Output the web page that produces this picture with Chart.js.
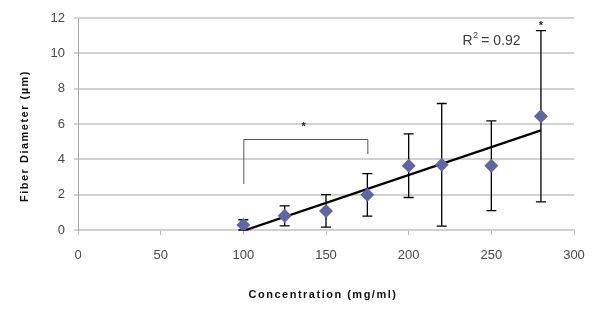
<!DOCTYPE html>
<html>
<head>
<meta charset="utf-8">
<script src="https://cdn.jsdelivr.net/npm/chart.js@4/dist/chart.umd.min.js"></script>
<style>
  html, body { margin: 0; padding: 0; background: #fff; }
  #wrap { width: 600px; height: 313px; }
</style>
</head>
<body>
<div id="wrap"><canvas id="fiberChart"></canvas></div>
<script>
// Fiber diameter vs concentration
const concentrations = [100, 125, 150, 175, 200, 220, 250, 280];
const diameters = [0.28, 0.8, 1.08, 1.99, 3.64, 3.69, 3.64, 6.44];
const errors = [0.3, 0.57, 0.92, 1.2, 1.8, 3.47, 2.54, 4.85];
const trendX = [100, 280];
const trendY = [-0.05, 5.64];
const xTicks = [0, 50, 100, 150, 200, 250, 300];
const yTicks = [0, 2, 4, 6, 8, 10, 12];

const FONT = "'Liberation Sans', Arial, sans-serif";

// error bars, drawn behind the markers
const errorBars = {
    id: 'errorBars',
    beforeDatasetsDraw(chart) {
        const { ctx, scales: { x, y } } = chart;
        ctx.save();
        ctx.strokeStyle = '#000';
        ctx.lineWidth = 1.3;
        concentrations.forEach((c, i) => {
            const px = x.getPixelForValue(c);
            const top = y.getPixelForValue(diameters[i] + errors[i]);
            const bot = y.getPixelForValue(Math.max(diameters[i] - errors[i], 0));
            ctx.beginPath();
            ctx.moveTo(px, top); ctx.lineTo(px, bot);
            ctx.moveTo(px - 5, top); ctx.lineTo(px + 5, top);
            ctx.moveTo(px - 5, bot); ctx.lineTo(px + 5, bot);
            ctx.stroke();
        });
        ctx.restore();
    }
};

// bracket, asterisks, R², axis titles
const annotations = {
    id: 'annotations',
    afterDraw(chart) {
        const { ctx, scales: { x, y } } = chart;
        ctx.save();
        // significance bracket
        ctx.strokeStyle = '#555';
        ctx.lineWidth = 1;
        ctx.beginPath();
        ctx.moveTo(x.getPixelForValue(100) + 0.5, y.getPixelForValue(2.6));
        ctx.lineTo(x.getPixelForValue(100) + 0.5, y.getPixelForValue(5.15) + 0.5);
        ctx.lineTo(x.getPixelForValue(175) + 0.5, y.getPixelForValue(5.15) + 0.5);
        ctx.lineTo(x.getPixelForValue(175) + 0.5, y.getPixelForValue(4.3));
        ctx.stroke();

        ctx.fillStyle = '#222';
        ctx.font = 'bold 11px ' + FONT;
        ctx.textAlign = 'center';
        ctx.textBaseline = 'middle';
        ctx.fillText('*', x.getPixelForValue(136.5), y.getPixelForValue(5.85));
        ctx.fillText('*', x.getPixelForValue(280), y.getPixelForValue(11.55));

        // R squared
        ctx.fillStyle = '#404040';
        ctx.textAlign = 'left';
        ctx.textBaseline = 'alphabetic';
        const rx = x.getPixelForValue(232.5);
        const ry = y.getPixelForValue(10.45);
        ctx.font = '14px ' + FONT;
        ctx.fillText('R', rx, ry);
        ctx.font = '9px ' + FONT;
        ctx.fillText('2', rx + 10.5, ry - 7);
        ctx.font = '14px ' + FONT;
        ctx.fillText(' = 0.92', rx + 15, ry);

        // axis titles
        ctx.fillStyle = '#111';
        ctx.font = 'bold 11px ' + FONT;
        ctx.letterSpacing = '1.5px';
        ctx.textAlign = 'center';
        ctx.textBaseline = 'middle';
        ctx.fillText('Concentration (mg/ml)', 323, 295);
        ctx.translate(25, 136);
        ctx.rotate(-Math.PI / 2);
        ctx.fillText('Fiber Diameter (µm)', 0, 0);
        ctx.restore();
    }
};

const ctx = document.getElementById('fiberChart').getContext('2d');
new Chart(ctx, {
    type: 'scatter',
    data: {
        datasets: [{
            label: 'Fiber diameter',
            data: concentrations.map((c, i) => ({ x: c, y: diameters[i] })),
            pointStyle: 'rectRot',
            pointRadius: 7,
            backgroundColor: '#6264a6',
            borderColor: '#6264a6',
            borderWidth: 0
        }, {
            label: 'Linear trend',
            type: 'line',
            data: trendX.map((t, i) => ({ x: t, y: trendY[i] })),
            borderColor: '#000',
            borderWidth: 2.2,
            pointRadius: 0,
            fill: false
        }]
    },
    options: {
        responsive: true,
        maintainAspectRatio: false,
        animation: false,
        layout: { padding: { top: 18, right: 26, left: 0, bottom: 0 } },
        plugins: {
            legend: { display: false },
            tooltip: { enabled: false }
        },
        scales: {
            x: {
                type: 'linear',
                min: 0,
                max: 300,
                afterBuildTicks: s => { s.ticks = xTicks.map(v => ({ value: v })); },
                afterFit: s => { s.height = 83; },
                grid: { drawOnChartArea: false, drawTicks: true, tickLength: 5, color: '#bdbdbd' },
                border: { color: '#d0d0d0', width: 2 },
                ticks: { color: '#4a4a4a', font: { family: FONT, size: 13 }, padding: 13, maxRotation: 0 }
            },
            y: {
                min: 0,
                max: 12,
                afterBuildTicks: s => { s.ticks = yTicks.map(v => ({ value: v })); },
                afterFit: s => { s.width = 78; },
                grid: { color: '#d2d2d2', lineWidth: 2, tickLength: 4 },
                border: { color: '#a8a8a8', width: 1 },
                ticks: { color: '#4a4a4a', font: { family: FONT, size: 13 }, padding: 9 }
            }
        }
    },
    plugins: [errorBars, annotations]
});
</script>
</body>
</html>
